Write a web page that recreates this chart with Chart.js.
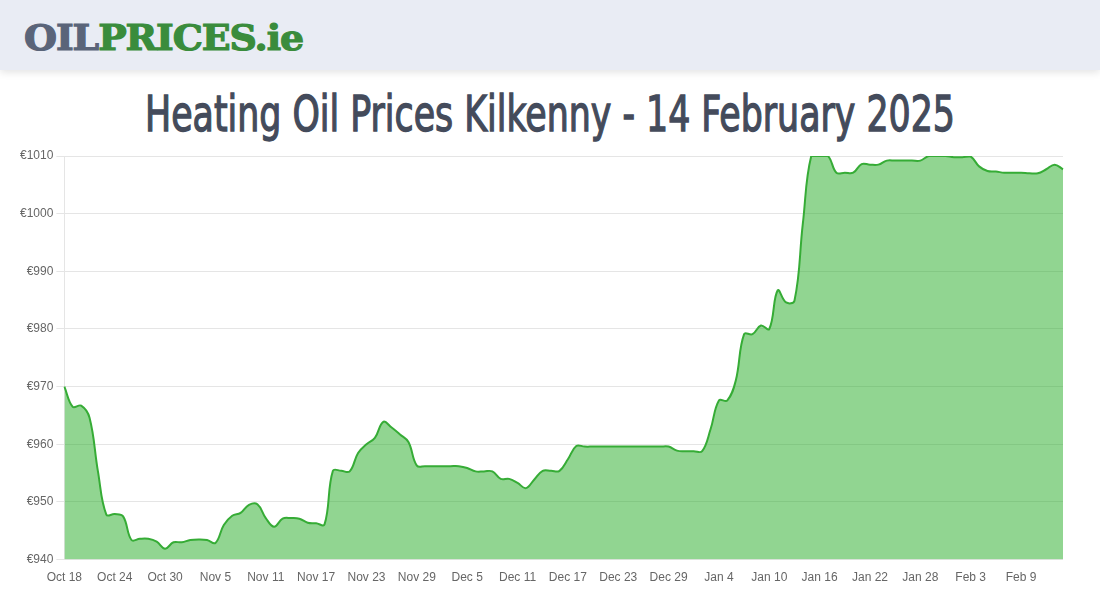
<!DOCTYPE html>
<html>
<head>
<meta charset="utf-8">
<script src="https://cdn.jsdelivr.net/npm/chart.js@4"></script>
<style>
  html, body { margin: 0; padding: 0; background: #fff; width: 1100px; height: 600px; overflow: hidden; }
  .header { position: absolute; left: 0; top: 0; width: 1100px; height: 70px; background: #e9ecf4; box-shadow: 0 2px 8px rgba(0,0,0,0.12); }
  .logo { position: absolute; left: 24px; top: 14px; font-family: "DejaVu Serif", serif; font-weight: bold; font-size: 36px; letter-spacing: -1px; line-height: 46px; white-space: nowrap; transform-origin: 0 50%; -webkit-text-stroke: 1.2px currentColor; }
  .logo .oil { color: #5a6479; }
  .logo .rest { color: #3a8c3c; }
  .title { position: absolute; left: 550px; top: 82px; font-family: "DejaVu Sans Condensed", "DejaVu Sans", sans-serif; font-weight: normal; font-size: 50px; color: #444b5b; line-height: 64px; white-space: nowrap; transform-origin: 0 50%; -webkit-text-stroke: 1.3px #444b5b; }
  .wrap { position: absolute; left: 0; top: 140px; width: 1100px; height: 460px; }
</style>
</head>
<body>
<div class="header"><div class="logo" id="logo"><span class="oil">OIL</span><span class="rest">PRICES.ie</span></div></div>
<div class="title" id="title">Heating Oil Prices Kilkenny - 14 February 2025</div>
<div class="wrap"><canvas id="c"></canvas></div>
<script>
const monthNames = ["Oct","Nov","Dec","Jan","Feb"];
const monthLengths = [31, 30, 31, 31, 28];
const startDay = 18;
const dayCount = 120;
const tickEvery = 6;
const yTicks = [940, 950, 960, 970, 980, 990, 1000, 1010];
const prices = [
  970.0, 966.5, 966.7, 964.6, 955.3, 947.8, 947.9, 947.5, 943.4, 943.6,
  943.6, 943.1, 941.9, 943.0, 943.0, 943.4, 943.5, 943.4, 942.9, 946.0,
  947.6, 948.1, 949.5, 949.6, 947.2, 945.7, 947.1, 947.2, 947.1, 946.4,
  946.3, 946.1, 955.4, 955.4, 955.3, 958.5, 960.0, 961.1, 963.9, 962.9,
  961.7, 960.4, 956.3, 956.2, 956.2, 956.2, 956.2, 956.2, 955.9, 955.3,
  955.3, 955.3, 954.0, 954.0, 953.3, 952.4, 953.9, 955.4, 955.4, 955.4,
  957.4, 959.7, 959.6, 959.6, 959.6, 959.6, 959.6, 959.6, 959.6, 959.6,
  959.6, 959.6, 959.6, 958.9, 958.8, 958.8, 958.8, 962.6, 967.6, 967.6,
  971.0, 979.1, 979.1, 980.6, 980.0, 986.7, 984.6, 984.9, 998.3, 1010.0,
  1010.0, 1010.0, 1007.1, 1007.1, 1007.1, 1008.6, 1008.5, 1008.5, 1009.2, 1009.2,
  1009.2, 1009.2, 1009.2, 1010.0, 1010.0, 1010.0, 1009.8, 1009.8, 1009.9, 1008.2,
  1007.4, 1007.3, 1007.1, 1007.1, 1007.1, 1007.0, 1007.0, 1007.7, 1008.5, 1007.7
];

// fit header texts to their widths in the reference
(function fit() {
  const t = document.getElementById('title');
  const w = t.getBoundingClientRect().width;
  t.style.transform = 'translateX(-405px) scaleX(' + (810 / w) + ')';
  const lg = document.getElementById('logo');
  const lw = lg.getBoundingClientRect().width;
  lg.style.transform = 'scaleX(' + (279 / lw) + ')';
})();

// build date labels from the month arrays
const labels = [];
let m = 0, d = startDay;
for (let i = 0; i < dayCount; i++) {
  labels.push(monthNames[m] + " " + d);
  d++;
  if (d > monthLengths[m]) { d = 1; m++; }
}

new Chart(document.getElementById('c'), {
  type: 'line',
  data: {
    labels: labels,
    datasets: [{
      data: prices,
      borderColor: '#36ac36',
      backgroundColor: 'rgba(36,171,36,0.5)',
      borderWidth: 2,
      fill: true,
      tension: 0.4,
      pointRadius: 0,
      pointHoverRadius: 0
    }]
  },
  options: {
    responsive: true,
    maintainAspectRatio: false,
    animation: false,
    layout: { padding: { left: 17, right: 37, top: 16, bottom: 12 } },
    plugins: { legend: { display: false }, tooltip: { enabled: false } },
    scales: {
      x: {
        grid: { display: false },
        border: { display: false },
        ticks: {
          autoSkip: false,
          maxRotation: 0,
          color: '#666',
          font: { size: 12 },
          callback: function(v, i) { return i % tickEvery === 0 ? labels[i] : null; }
        }
      },
      y: {
        min: yTicks[0],
        max: yTicks[yTicks.length - 1],
        afterBuildTicks: function(scale) { scale.ticks = yTicks.map(v => ({ value: v })); },
        grid: { color: 'rgba(0,0,0,0.1)' },
        border: { display: true, color: 'rgba(0,0,0,0.1)' },
        ticks: {
          color: '#666',
          font: { size: 12 },
          callback: function(v) { return '€' + v; }
        }
      }
    }
  }
});
</script>
</body>
</html>
